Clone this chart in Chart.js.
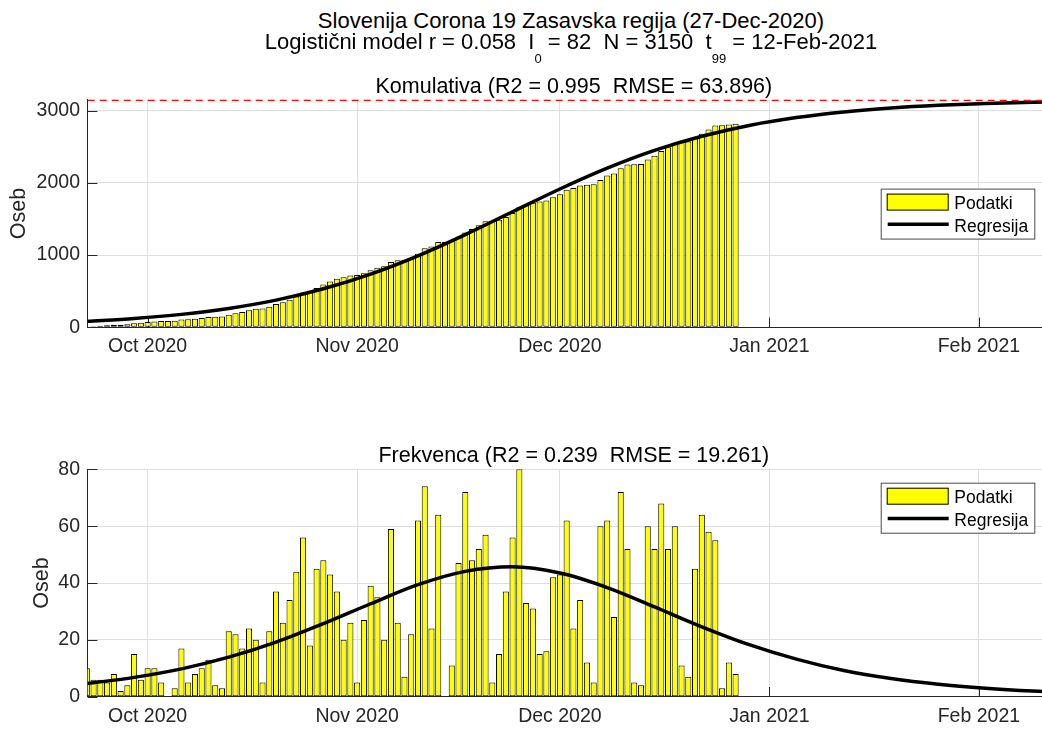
<!DOCTYPE html>
<html>
<head>
<meta charset="utf-8">
<script src="https://cdn.jsdelivr.net/npm/chart.js@4.4.1/dist/chart.umd.min.js"></script>
<style>
html,body{margin:0;padding:0;background:#fff;overflow:hidden;width:1042px;height:729px;}
#page{position:relative;width:1042px;height:729px;overflow:hidden;background:#fff;}
canvas{position:absolute;left:0;}
.sup{position:absolute;left:571px;transform:translateX(-50%);white-space:pre;font-family:'Liberation Sans',Arial,sans-serif;font-size:22px;line-height:22px;color:#000;z-index:2;}
.sup sub{font-size:13px;vertical-align:-14px;line-height:0;}
</style>
</head>
<body>
<div id="page">
  <canvas id="cumChart" width="1060" height="300" style="top:60px"></canvas>
  <canvas id="dailyChart" width="1060" height="329" style="top:400px"></canvas>
  <div class="sup" style="top:9.7px">Slovenija Corona 19 Zasavska regija (27-Dec-2020)</div>
  <div class="sup" style="top:31.4px">Logistični model r = 0.058  I<sub>0</sub> = 82  N = 3150  t<sub>99</sub> = 12-Feb-2021</div>
</div>
<script>
// ---- data (day 0 = 22-Sep-2020) ----
const firstDay = '22-Sep-2020';
const dailyCases = [
  10,6,6,5,8,2,4,15,6,
  10,10,5,0,3,17,5,8,10,13,4,3,23,22,17,24,20,5,23,37,26,34,44,56,18,45,48,43,37,20,26,
  5,27,39,35,20,59,26,7,22,62,74,24,64,0,11,47,72,48,52,57,5,15,37,56,80,33,31,15,16,42,
  43,62,24,34,12,5,60,62,28,72,52,5,4,60,52,68,52,60,11,7,45,64,58,55,3,12,8
];
const cumulativeCases = [
  10,16,22,27,35,37,41,56,62,
  72,82,87,87,90,107,112,120,130,143,147,150,173,195,212,236,256,261,284,321,347,381,425,481,499,544,592,635,672,692,718,
  723,750,789,824,844,903,929,936,958,1020,1094,1118,1182,1182,1193,1240,1312,1360,1412,1469,1474,1489,1526,1582,1662,1695,1726,1741,1757,1799,
  1842,1904,1928,1962,1974,1979,2039,2101,2129,2201,2253,2258,2262,2322,2374,2442,2494,2554,2565,2572,2617,2681,2739,2794,2797,2809,2817
];
const curveDays       = [0,7,14,21,28,35,42,49,56,63,70,77,84,91,98,105,112,119,126,133,140,147];
const curveCumulative = [82,122,179,261,376,533,737,990,1284,1600,1915,2203,2449,2645,2795,2904,2982,3036,3073,3098,3115,3127];
const curveDaily      = [4.6,6.8,9.8,13.9,19.2,25.7,32.7,39.4,44.1,45.7,43.5,38.4,31.6,24.6,18.3,13.2,9.2,6.4,4.4,3.0,2.0,1.3];
const capacityN = 3150;
const monthTickDays   = [9, 40, 70, 101, 132];
const monthTickLabels = ['Oct 2020','Nov 2020','Dec 2020','Jan 2021','Feb 2021'];
const cumulativeTicks = [0, 1000, 2000, 3000];
const dailyTicks      = [0, 20, 40, 60, 80];
const seriesLabels    = ['Podatki', 'Regresija'];
const xRange = [0.13, 144];

Chart.defaults.font.family = "'Liberation Sans', Arial, sans-serif";

const innerTicks = {
  id: 'innerTicks',
  beforeDatasetsDraw(chart) {
    const {ctx, chartArea: a, scales: {x, y}} = chart;
    ctx.save();
    ctx.strokeStyle = '#262626';
    ctx.lineWidth = 1;
    ctx.beginPath();
    y.ticks.forEach(t => {
      const py = Math.round(y.getPixelForValue(t.value)) + 0.5;
      ctx.moveTo(a.left, py); ctx.lineTo(a.left + 9.7, py);
    });
    x.ticks.forEach(t => {
      const px = Math.round(x.getPixelForValue(t.value)) + 0.5;
      ctx.moveTo(px, a.bottom); ctx.lineTo(px, a.bottom - 9.7);
    });
    ctx.stroke();
    ctx.restore();
  }
};

const boxLegend = {
  id: 'boxLegend',
  afterDraw(chart, args, opts) {
    const {ctx, chartArea: a} = chart;
    const x0 = opts.x, y0 = a.top + opts.dy, w = 153.6, h = 50;
    ctx.save();
    ctx.fillStyle = '#ffffff';
    ctx.fillRect(x0, y0, w, h);
    ctx.strokeStyle = '#4a4a4a';
    ctx.lineWidth = 1;
    ctx.strokeRect(x0 + 0.5, y0 + 0.5, w, h);
    ctx.fillStyle = '#ffff00';
    ctx.fillRect(x0 + 6, y0 + 5, 62, 16.7);
    ctx.strokeStyle = '#000';
    ctx.strokeRect(x0 + 6.5, y0 + 5.5, 61, 16);
    ctx.beginPath();
    ctx.strokeStyle = '#000';
    ctx.lineWidth = 3.5;
    ctx.moveTo(x0 + 7, y0 + 35.7); ctx.lineTo(x0 + 68, y0 + 35.7);
    ctx.stroke();
    ctx.fillStyle = '#000';
    ctx.font = "17.5px 'Liberation Sans', Arial, sans-serif";
    ctx.textBaseline = 'alphabetic';
    ctx.textAlign = 'left';
    ctx.fillText(opts.labels[0], x0 + 73.6, y0 + 20.5);
    ctx.fillText(opts.labels[1], x0 + 73.6, y0 + 43.4);
    ctx.restore();
  }
};

function buildChart(id, cfg) {
  const datasets = [
    { type: 'line', label: seriesLabels[1],
      data: curveDays.map((d, i) => ({x: d, y: cfg.curve[i]})),
      borderColor: '#000', borderWidth: 3.5, pointRadius: 0, fill: false,
      cubicInterpolationMode: 'monotone', order: 1 },
    { type: 'bar', label: seriesLabels[0],
      data: cfg.bars.map((v, i) => ({x: i, y: v})),
      backgroundColor: '#ffff00', borderColor: '#000', borderWidth: 1,
      borderSkipped: false, categoryPercentage: 1, barPercentage: 0.9,
      clip: 0, order: 2 }
  ];
  if (cfg.cap) {
    datasets.unshift({ type: 'line', label: 'N',
      data: [{x: xRange[0], y: cfg.cap}, {x: xRange[1], y: cfg.cap}],
      borderColor: '#ff0000', borderWidth: 2.5, borderDash: [7, 5],
      pointRadius: 0, fill: false, order: 0 });
  }
  return new Chart(document.getElementById(id), {
    type: 'bar',
    data: {datasets},
    options: {
      responsive: false,
      animation: false,
      events: [],
      layout: {padding: 0},
      plugins: {
        legend: {display: false},
        tooltip: {enabled: false},
        title: {
          display: true, text: cfg.title, fullSize: false, color: '#000',
          font: {size: 21.5, weight: 'normal', lineHeight: 1.2},
          padding: {top: cfg.titlePadTop, bottom: 0}
        },
        boxLegend: {x: 880.7, dy: cfg.legendDy, labels: seriesLabels}
      },
      scales: {
        x: {
          type: 'linear', min: xRange[0], max: xRange[1], offset: false,
          afterBuildTicks: s => { s.ticks = monthTickDays.map(v => ({value: v})); },
          afterFit: s => { s.height = cfg.xAxisHeight; },
          grid: {color: '#dedede', drawTicks: false, offset: false},
          border: {color: '#262626', width: 1},
          ticks: {autoSkip: false, maxRotation: 0, padding: 8, color: '#262626',
                  font: {size: 19.5}, callback: (v, i) => monthTickLabels[i]}
        },
        y: {
          type: 'linear', min: 0, max: cfg.yMax,
          afterBuildTicks: s => { s.ticks = cfg.ticks.map(v => ({value: v})); },
          afterFit: s => { s.width = 87.7; },
          grid: {color: '#dedede', drawTicks: false},
          border: {color: '#262626', width: 1},
          ticks: {padding: 7.7, color: '#262626', font: {size: 19.5}, callback: v => String(v)},
          title: {display: true, text: 'Oseb', color: '#262626',
                  font: {size: 21.5, lineHeight: 1.2},
                  padding: {top: cfg.yTitlePad, bottom: 0}}
        }
      }
    },
    plugins: [innerTicks, boxLegend]
  });
}

buildChart('cumChart', {
  bars: cumulativeCases, curve: curveCumulative, cap: capacityN,
  ticks: cumulativeTicks, yMax: capacityN,
  title: 'Komulativa (R2 = 0.995  RMSE = 63.896)',
  titlePadTop: 14, xAxisHeight: 32.7, yTitlePad: 6.3, legendDy: 88.8
});
buildChart('dailyChart', {
  bars: dailyCases, curve: curveDaily, cap: null,
  ticks: dailyTicks, yMax: 80,
  title: 'Frekvenca (R2 = 0.239  RMSE = 19.261)',
  titlePadTop: 43.5, xAxisHeight: 32.3, yTitlePad: 28.9, legendDy: 13.4
});
</script>
</body>
</html>
